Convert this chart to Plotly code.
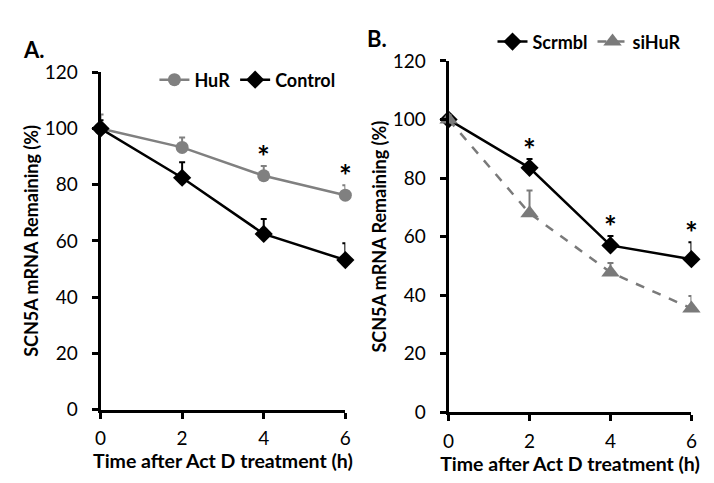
import plotly.graph_objects as go

time_h = [0, 2, 4, 6]
hur = [100, 93.3, 83.2, 76.3]
hur_err = [5, 3.5, 3.5, 3.5]
control = [100, 82.5, 62.5, 53.2]
control_err = [3, 5.5, 5.3, 6]
scrmbl = [100, 83.5, 57, 52.3]
scrmbl_err = [1.5, 3, 3.2, 5.8]
sihur = [100, 68, 47.8, 35.5]
sihur_err = [1.5, 7.8, 3.2, 4.2]
sig_a = [4, 6]
sig_b = [2, 4, 6]
yticks = [0, 20, 40, 60, 80, 100, 120]
xticks = [0, 2, 4, 6]

FONT = "Lato"
GRAY = "#808080"
W, H = 714, 483

fig = go.Figure()

def add(x, y, err, name, color, symbol, size, dash, xa, ya, legend):
    fig.add_trace(go.Scatter(
        x=x, y=y, name=name, mode="lines+markers",
        line=dict(color=color, width=2.5, dash=dash),
        marker=dict(color=color, symbol=symbol, size=size),
        error_y=dict(type="data", array=err, arrayminus=[0] * len(err),
                     symmetric=False, color=color, thickness=2, width=3),
        xaxis=xa, yaxis=ya, legend=legend, cliponaxis=False))

add(time_h, hur, hur_err, "HuR", GRAY, "circle", 13, "solid", "x", "y", "legend")
add(time_h, control, control_err, "Control", "black", "diamond", 14, "solid", "x", "y", "legend")
add(time_h, scrmbl, scrmbl_err, "Scrmbl", "black", "diamond", 14, "solid", "x2", "y2", "legend2")
add(time_h, sihur, sihur_err, "siHuR", "#7a7a7a", "triangle-up", 16, "dash", "x2", "y2", "legend2")

ax_common = dict(showline=True, linecolor="black", linewidth=3, ticks="outside",
                 tickcolor="black", tickwidth=3, ticklen=6, showgrid=False,
                 zeroline=False, tickfont=dict(family=FONT, size=19, color="black"))

xt = dict(text="Time after Act D treatment (h)",
          font=dict(family=FONT, size=19.5, color="black", weight="bold"), standoff=5)
yt = dict(text="SCN5A mRNA Remaining (%)",
          font=dict(family=FONT, size=18, color="black", weight="bold"), standoff=2)

fig.update_layout(
    width=W, height=H, margin=dict(l=0, r=0, t=0, b=0),
    paper_bgcolor="white", plot_bgcolor="white",
    xaxis=dict(domain=[88 / W, 337 / W], anchor="y", range=[0, 6], tickvals=xticks,
               title=xt, ticklabelstandoff=4, **ax_common),
    yaxis=dict(domain=[1 - 409 / H, 1 - 55 / H], anchor="x", range=[0, 120], tickvals=yticks,
               title=yt, ticklabelstandoff=10, **ax_common),
    xaxis2=dict(domain=[442 / W, 689 / W], anchor="y2", range=[0, 6], tickvals=xticks,
                title=xt, ticklabelstandoff=4, **ax_common),
    yaxis2=dict(domain=[1 - 412 / H, 1 - 43 / H], anchor="x2", range=[0, 120], tickvals=yticks,
                title=yt, ticklabelstandoff=10, **ax_common),
    legend=dict(orientation="h", x=1 - 382 / W, xanchor="right", y=1 - 63 / H, yanchor="middle",
                font=dict(family=FONT, size=18, color="black", weight="bold"),
                itemwidth=30, bgcolor="rgba(0,0,0,0)", tracegroupgap=0),
    legend2=dict(orientation="h", x=1 - 30 / W, xanchor="right", y=1 - 23 / H, yanchor="middle",
                 font=dict(family=FONT, size=18, color="black", weight="bold"),
                 itemwidth=30, bgcolor="rgba(0,0,0,0)"),
    showlegend=True,
)

for xv in sig_a:
    i = time_h.index(xv)
    fig.add_annotation(x=xv, y=hur[i] + hur_err[i], xref="x", yref="y", text="<b>*</b>",
                       showarrow=False, yanchor="bottom", yshift=-10,
                       font=dict(family=FONT, size=30, color="black"))
for xv in sig_b:
    i = time_h.index(xv)
    fig.add_annotation(x=xv, y=scrmbl[i] + scrmbl_err[i], xref="x2", yref="y2", text="<b>*</b>",
                       showarrow=False, yanchor="bottom", yshift=-10,
                       font=dict(family=FONT, size=30, color="black"))

fig.add_annotation(x=7 / W, y=1 - 31 / H, xref="paper", yref="paper", text="A.",
                   showarrow=False, xanchor="left", yanchor="middle",
                   font=dict(family=FONT, size=22, color="black", weight="bold"))
fig.add_annotation(x=357 / W, y=1 - 19 / H, xref="paper", yref="paper", text="B.",
                   showarrow=False, xanchor="left", yanchor="middle",
                   font=dict(family=FONT, size=22, color="black", weight="bold"))

fig.write_html("out.html")
